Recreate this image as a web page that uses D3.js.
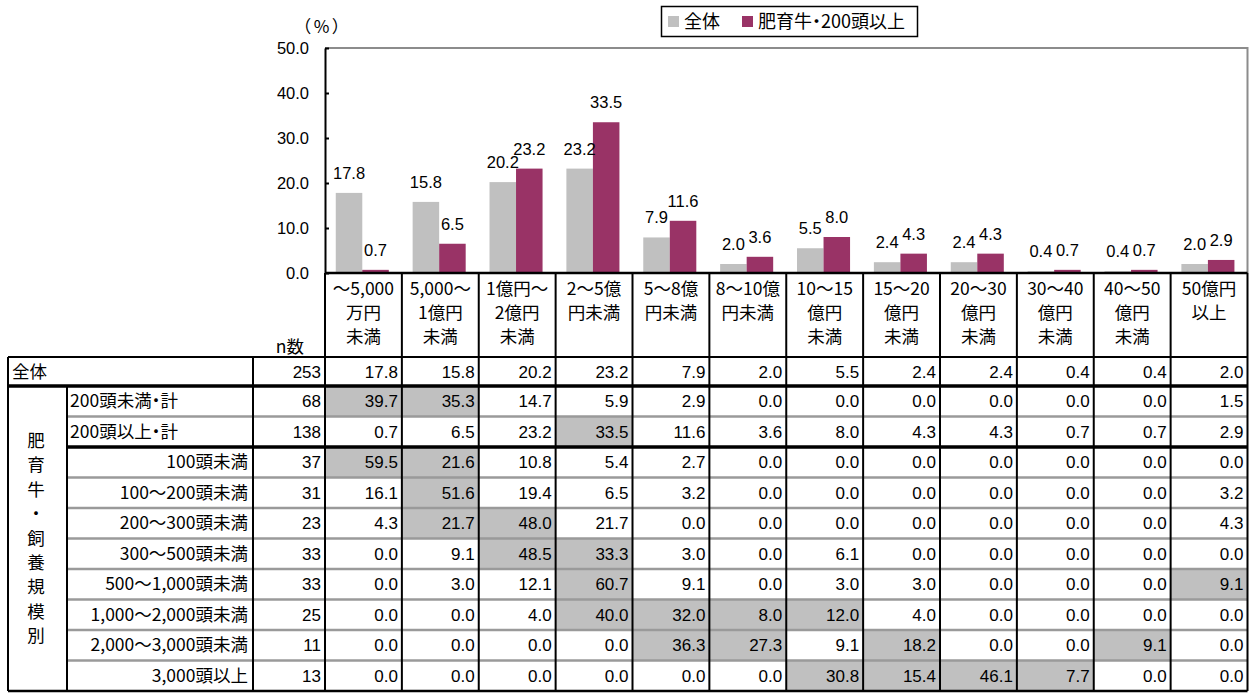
<!DOCTYPE html>
<html lang="ja">
<head>
<meta charset="utf-8">
<script src="https://cdn.jsdelivr.net/npm/d3@7"></script>
<style>
  html, body { margin: 0; padding: 0; background: #fff; }
  svg { display: block; }
  text { font-family: "Liberation Sans", Arial, "Noto Sans CJK JP", sans-serif; fill: #000; }
  .jp { font-family: "Noto Sans CJK JP", "Liberation Sans", sans-serif; font-feature-settings: "palt"; }
</style>
</head>
<body>
<svg id="chart" width="1255" height="693"></svg>
<script>
// 売上規模の区分（見出しは改行ごとに分けて保持）
const categories = [
  "〜5,000万円未満", "5,000〜1億円未満", "1億円〜2億円未満", "2〜5億円未満",
  "5〜8億円未満", "8〜10億円未満", "10〜15億円未満", "15〜20億円未満",
  "20〜30億円未満", "30〜40億円未満", "40〜50億円未満", "50億円以上"
];
const categoryLines = [
  ["〜5,000", "万円", "未満"], ["5,000〜", "1億円", "未満"], ["1億円〜", "2億円", "未満"],
  ["2〜5億", "円未満"], ["5〜8億", "円未満"], ["8〜10億", "円未満"],
  ["10〜15", "億円", "未満"], ["15〜20", "億円", "未満"], ["20〜30", "億円", "未満"],
  ["30〜40", "億円", "未満"], ["40〜50", "億円", "未満"], ["50億円", "以上"]
];

// 表の各行（%）
const totalValues   = [17.8, 15.8, 20.2, 23.2, 7.9, 2.0, 5.5, 2.4, 2.4, 0.4, 0.4, 2.0];
const under200Total = [39.7, 35.3, 14.7, 5.9, 2.9, 0.0, 0.0, 0.0, 0.0, 0.0, 0.0, 1.5];
const over200Total  = [0.7, 6.5, 23.2, 33.5, 11.6, 3.6, 8.0, 4.3, 4.3, 0.7, 0.7, 2.9];
const under100      = [59.5, 21.6, 10.8, 5.4, 2.7, 0.0, 0.0, 0.0, 0.0, 0.0, 0.0, 0.0];
const from100to200  = [16.1, 51.6, 19.4, 6.5, 3.2, 0.0, 0.0, 0.0, 0.0, 0.0, 0.0, 3.2];
const from200to300  = [4.3, 21.7, 48.0, 21.7, 0.0, 0.0, 0.0, 0.0, 0.0, 0.0, 0.0, 4.3];
const from300to500  = [0.0, 9.1, 48.5, 33.3, 3.0, 0.0, 6.1, 0.0, 0.0, 0.0, 0.0, 0.0];
const from500to1000 = [0.0, 3.0, 12.1, 60.7, 9.1, 0.0, 3.0, 3.0, 0.0, 0.0, 0.0, 9.1];
const from1000to2000 = [0.0, 0.0, 4.0, 40.0, 32.0, 8.0, 12.0, 4.0, 0.0, 0.0, 0.0, 0.0];
const from2000to3000 = [0.0, 0.0, 0.0, 0.0, 36.3, 27.3, 9.1, 18.2, 0.0, 0.0, 9.1, 0.0];
const over3000      = [0.0, 0.0, 0.0, 0.0, 0.0, 0.0, 30.8, 15.4, 46.1, 7.7, 0.0, 0.0];

const rowLabels = [
  "200頭未満・計", "200頭以上・計", "100頭未満", "100〜200頭未満", "200〜300頭未満",
  "300〜500頭未満", "500〜1,000頭未満", "1,000〜2,000頭未満", "2,000〜3,000頭未満", "3,000頭以上"
];
const rowValues = [
  under200Total, over200Total, under100, from100to200, from200to300,
  from300to500, from500to1000, from1000to2000, from2000to3000, over3000
];
const totalN = 253;
const rowN = [68, 138, 37, 31, 23, 33, 33, 25, 11, 13];

const seriesNames = ["全体", "肥育牛・200頭以上"];
const seriesColors = ["#c0c0c0", "#993366"];
const yTicks = [0, 10, 20, 30, 40, 50];
const groupTitle = "肥育牛・飼養規模別";
// 全体より5ポイント以上高いセルを網掛け
const highlightGap = 5;

const svg = d3.select("#chart");

// ---- グラフ部 ----
const plot = { left: 325, right: 1247.5, top: 48, bottom: 273 };
const y = d3.scaleLinear().domain([0, 50]).range([plot.bottom, plot.top]);
const x0 = d3.scaleBand().domain(categories).range([plot.left, plot.right]).padding(0);
const bw = x0.bandwidth();
const x1 = d3.scaleBand().domain(seriesNames).range([bw * 0.14, bw * 0.83]).padding(0);

// 枠（上端と右端）
svg.append("path")
  .attr("d", `M${plot.left},${plot.top}H${plot.right}V${plot.bottom}`)
  .attr("fill", "none").attr("stroke", "#8c8c8c").attr("stroke-width", 2);

const barData = categories.map((c, i) => ({
  cat: c,
  vals: [
    { s: seriesNames[0], v: totalValues[i], color: seriesColors[0] },
    { s: seriesNames[1], v: over200Total[i], color: seriesColors[1] }
  ]
}));

const groups = svg.append("g").selectAll("g").data(barData).join("g")
  .attr("transform", d => `translate(${x0(d.cat)},0)`);

groups.selectAll("rect").data(d => d.vals).join("rect")
  .attr("x", d => x1(d.s))
  .attr("width", x1.bandwidth())
  .attr("y", d => y(d.v))
  .attr("height", d => y(0) - y(d.v))
  .attr("fill", d => d.color);

groups.selectAll("text").data(d => d.vals).join("text")
  .attr("x", d => x1(d.s) + x1.bandwidth() / 2)
  .attr("y", d => y(d.v) - 14)
  .attr("text-anchor", "middle")
  .attr("font-size", 16.5)
  .text(d => d.v.toFixed(1));

// Y軸
const yAxis = d3.axisLeft(y).tickValues(yTicks).tickSizeInner(-4).tickSizeOuter(0)
  .tickFormat(d => d.toFixed(1)).tickPadding(16);
const yg = svg.append("g").attr("transform", `translate(${plot.left},0)`).call(yAxis);
yg.select(".domain").attr("stroke", "#000").attr("stroke-width", 2);
yg.selectAll(".tick line").attr("stroke", "#000").attr("stroke-width", 2);
yg.selectAll(".tick text").attr("font-size", 16.5).attr("font-family", "Liberation Sans, Arial, sans-serif").attr("fill", "#000");

// X軸の基線
svg.append("line")
  .attr("x1", plot.left).attr("x2", plot.right)
  .attr("y1", plot.bottom).attr("y2", plot.bottom)
  .attr("stroke", "#000").attr("stroke-width", 2.5);

svg.append("text").attr("class", "jp")
  .attr("x", 323).attr("y", 33).attr("text-anchor", "middle").attr("font-size", 17)
  .attr("letter-spacing", 3)
  .text("（%）");

// 凡例
const legend = svg.append("g");
legend.append("rect").attr("x", 661.5).attr("y", 6.5).attr("width", 256).attr("height", 30)
  .attr("fill", "#fff").attr("stroke", "#000").attr("stroke-width", 1.5);
const legendItems = [
  { name: seriesNames[0], color: seriesColors[0], x: 668 },
  { name: seriesNames[1], color: seriesColors[1], x: 742 }
];
legend.selectAll("rect.key").data(legendItems).join("rect").attr("class", "key")
  .attr("x", d => d.x).attr("y", 16).attr("width", 11).attr("height", 11)
  .attr("fill", d => d.color);
legend.selectAll("text").data(legendItems).join("text").attr("class", "jp")
  .attr("x", d => d.x + 16).attr("y", 28).attr("font-size", 18)
  .text(d => d.name);

// ---- 表部 ----
const tbl = {
  left: 8, groupRight: 67, labelRight: 253, nRight: 325,
  headTop: 273, headBottom: 357, totalBottom: 386, bottom: 691
};
const rowH = (tbl.bottom - tbl.totalBottom) / rowLabels.length;
const colRight = c => x0(c) + bw;
const numSize = 17;
const jpSize = 17.5;

const lines = svg.append("g");
function vline(x, y1, y2, w = 2, col = "#000") {
  lines.append("line").attr("x1", x).attr("x2", x).attr("y1", y1).attr("y2", y2)
    .attr("stroke", col).attr("stroke-width", w);
}
function hline(x1, x2, yy, w = 2, col = "#000") {
  lines.append("line").attr("x1", x1).attr("x2", x2).attr("y1", yy).attr("y2", yy)
    .attr("stroke", col).attr("stroke-width", w);
}

// 網掛けセル
const cells = [];
rowValues.forEach((vals, r) => {
  vals.forEach((v, c) => {
    cells.push({ r, c, v, hi: v - totalValues[c] >= highlightGap });
  });
});
const rowTop = r => tbl.totalBottom + r * rowH;

svg.insert("g", ":first-child").selectAll("rect").data(cells.filter(d => d.hi)).join("rect")
  .attr("x", d => x0(categories[d.c]))
  .attr("y", d => rowTop(d.r))
  .attr("width", bw)
  .attr("height", rowH)
  .attr("fill", "#c0c0c0");

// 行の区切り線（灰色）
for (let r = 1; r < rowLabels.length; r++) {
  if (r === 2) continue;
  hline(tbl.groupRight, plot.right, rowTop(r), 2.5, "#9a9a9a");
}
// 太線
hline(tbl.left, plot.right, tbl.totalBottom, 3.5);
hline(tbl.groupRight, plot.right, rowTop(2), 3.5);
hline(tbl.left, plot.right, tbl.headBottom, 2);
hline(tbl.left, plot.right, tbl.bottom, 2.5);

// 縦線
vline(tbl.left, tbl.headBottom, tbl.bottom);
vline(tbl.groupRight, tbl.totalBottom, tbl.bottom);
vline(tbl.labelRight, tbl.headBottom, tbl.bottom);
vline(tbl.nRight, tbl.headTop, tbl.bottom);
categories.forEach(c => vline(colRight(c), tbl.headTop, tbl.bottom));

// 見出し
const head = svg.append("g").selectAll("g").data(categories).join("g")
  .attr("transform", c => `translate(${x0(c) + bw / 2},0)`);
head.selectAll("text").data((c, i) => categoryLines[i]).join("text").attr("class", "jp")
  .attr("x", 0).attr("y", (d, i) => 295 + i * 24)
  .attr("text-anchor", "middle").attr("font-size", jpSize)
  .text(d => d);

svg.append("text").attr("class", "jp")
  .attr("x", 304).attr("y", 353).attr("text-anchor", "end").attr("font-size", jpSize)
  .text("n数");

// 全体行
const totalMid = (tbl.headBottom + tbl.totalBottom) / 2;
svg.append("text").attr("class", "jp").attr("x", 12).attr("y", totalMid + 6).attr("font-size", jpSize)
  .text(seriesNames[0]);
svg.append("text").attr("x", tbl.nRight - 4).attr("y", totalMid + 6)
  .attr("text-anchor", "end").attr("font-size", numSize).text(totalN);
svg.append("g").selectAll("text").data(totalValues).join("text")
  .attr("x", (v, i) => colRight(categories[i]) - 4)
  .attr("y", totalMid + 6)
  .attr("text-anchor", "end").attr("font-size", numSize)
  .text(v => v.toFixed(1));

// 各行
svg.append("g").selectAll("text").data(rowLabels).join("text").attr("class", "jp")
  .attr("x", (d, r) => r < 2 ? tbl.groupRight + 3 : tbl.labelRight - 5)
  .attr("text-anchor", (d, r) => r < 2 ? "start" : "end")
  .attr("y", (d, r) => rowTop(r) + rowH / 2 + 6)
  .attr("font-size", jpSize)
  .text(d => d);
svg.append("g").selectAll("text").data(rowN).join("text")
  .attr("x", tbl.nRight - 4)
  .attr("y", (d, r) => rowTop(r) + rowH / 2 + 6)
  .attr("text-anchor", "end").attr("font-size", numSize)
  .text(d => d);
svg.append("g").selectAll("text").data(cells).join("text")
  .attr("x", d => colRight(categories[d.c]) - 4)
  .attr("y", d => rowTop(d.r) + rowH / 2 + 6)
  .attr("text-anchor", "end").attr("font-size", numSize)
  .text(d => d.v.toFixed(1));

// 縦書きの区分名
const gChars = Array.from(groupTitle);
const gMid = (tbl.totalBottom + tbl.bottom) / 2;
const gStep = 24.4;
svg.append("g").selectAll("text").data(gChars).join("text").attr("class", "jp")
  .attr("x", 36)
  .attr("y", (d, i) => gMid + (i - (gChars.length - 1) / 2) * gStep + 6)
  .attr("text-anchor", "middle").attr("font-size", jpSize)
  .text(d => d);
</script>
</body>
</html>
